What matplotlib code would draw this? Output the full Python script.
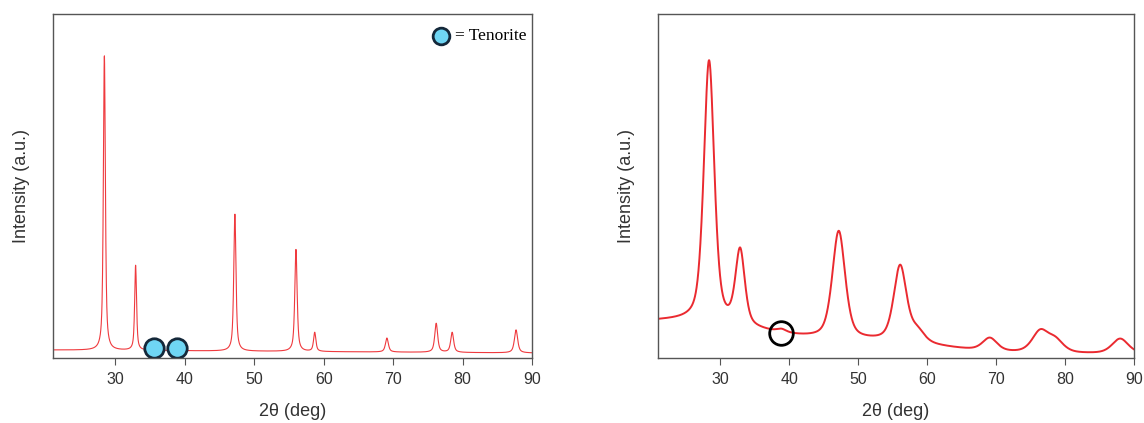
import numpy as np
import matplotlib.pyplot as plt

plt.rcParams['font.family'] = ['Liberation Sans', 'DejaVu Sans']

# left pattern: sharp peaks (position, height, half width)
left_pos = [28.4, 32.9, 35.6, 38.8, 47.2, 56.0, 58.7, 69.1, 76.2, 78.5, 87.7]
left_height = [295, 85, 5, 5, 137, 102, 19, 14, 29, 20, 23]
left_hw = [0.17, 0.16, 0.3, 0.3, 0.19, 0.2, 0.2, 0.25, 0.25, 0.25, 0.28]
left_base = [8, 5]          # background at 21 and at 90 deg

# right pattern: broad peaks
right_pos = [28.4, 32.9, 38.9, 47.2, 56.1, 58.6, 69.1, 76.4, 78.6, 88.0]
right_height = [262, 75, 3, 108, 76, 11, 13, 21, 12, 15]
right_hw = [0.9, 0.8, 0.8, 1.1, 1.1, 1.2, 1.25, 1.4, 1.4, 1.4]
right_base = 4
hump_pos = [22, 55]         # broad background humps
hump_height = [33, 8]
hump_width = [22, 12]

tenorite_x = [35.6, 38.8]
tenorite_y = [10, 10]
circle_x = 38.9
circle_y = 25

tt = np.linspace(21, 90, 3000)


def pvoigt(x, pos, h, hw, eta):
    out = np.zeros_like(x)
    for p, a, w in zip(pos, h, hw):
        u = ((x - p) / w) ** 2
        out += a * (eta / (1 + u) + (1 - eta) * np.exp(-np.log(2) * u))
    return out


y_left = pvoigt(tt, left_pos, left_height, left_hw, 0.7) + np.interp(tt, [21, 90], left_base)
y_right = pvoigt(tt, right_pos, right_height, right_hw, 0.5) + right_base
for p, a, w in zip(hump_pos, hump_height, hump_width):
    y_right += a * np.exp(-((tt - p) / w) ** 2)

fig = plt.figure(figsize=(11.44, 4.23), dpi=100)
ax1 = fig.add_axes([53 / 1144, 65 / 423, 479 / 1144, 344 / 423])
ax2 = fig.add_axes([658 / 1144, 65 / 423, 476 / 1144, 344 / 423])

ax1.plot(tt, y_left, color='#ef3a3e', lw=0.8)
ax2.plot(tt, y_right, color='#ea2a30', lw=1.4)

ax1.plot(tenorite_x, tenorite_y, 'o', ms=14, mfc='#6fd6f4', mec='#14283a', mew=2, ls='none')
ax2.plot([circle_x], [circle_y], 'o', ms=17, mfc='none', mec='black', mew=2)

# legend for tenorite
ax1.plot([0.81], [0.935], 'o', ms=12, mfc='#6fd6f4', mec='#14283a', mew=2,
         transform=ax1.transAxes, clip_on=False)
ax1.text(0.839, 0.935, '= Tenorite', transform=ax1.transAxes, va='center', ha='left',
         fontsize=12.5, family='Liberation Serif')

for ax in (ax1, ax2):
    ax.set_xlim(21, 90)
    ax.set_ylim(0, 344)
    ax.set_xticks([30, 40, 50, 60, 70, 80, 90])
    ax.set_yticks([])
    ax.tick_params(axis='x', direction='out', length=5, color='#555555',
                   labelsize=11.5, labelcolor='#333333', pad=5)
    for s in ax.spines.values():
        s.set_color('#555555')
        s.set_linewidth(1)
    ax.set_xlabel('2θ (deg)', fontsize=13, color='#333333')
    ax.set_ylabel('Intensity (a.u.)', fontsize=13, color='#333333')
    ax.yaxis.set_label_coords(-23 / 479, 0.5)
    ax.xaxis.set_label_coords(0.5, -45 / 344)

fig.savefig('out.png', dpi=100, facecolor='white')
